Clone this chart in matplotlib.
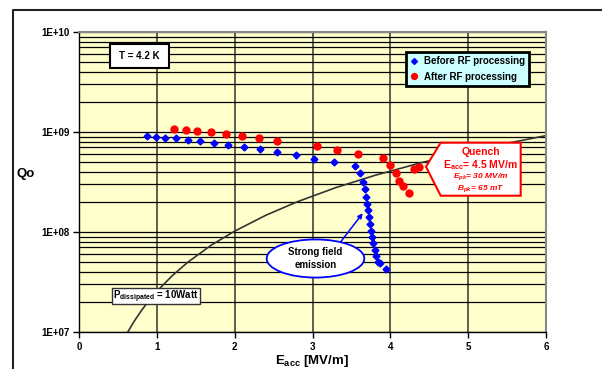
import matplotlib
matplotlib.use("Agg")
import matplotlib.pyplot as plt
from matplotlib.patches import Rectangle, Polygon, Ellipse
from matplotlib.lines import Line2D
from matplotlib.ticker import LogLocator, FixedLocator, NullFormatter

plt.rcParams["font.family"] = ["Liberation Sans", "DejaVu Sans"]
plt.rcParams["mathtext.fontset"] = "custom"
plt.rcParams["mathtext.rm"] = "Liberation Sans:bold"
plt.rcParams["mathtext.it"] = "Liberation Sans:bold:italic"
plt.rcParams["mathtext.bf"] = "Liberation Sans:bold"

# before RF processing (blue diamonds)
e_before = [0.87, 0.99, 1.11, 1.25, 1.40, 1.55, 1.73, 1.92, 2.12, 2.32, 2.55, 2.79,
            3.02, 3.27, 3.54, 3.61, 3.65, 3.68, 3.69, 3.70, 3.71, 3.72, 3.74, 3.75,
            3.77, 3.78, 3.80, 3.81, 3.84, 3.87, 3.95]
q_before = [9.06e8, 9.0e8, 8.77e8, 8.7e8, 8.38e8, 8.13e8, 7.82e8, 7.47e8, 7.13e8, 6.76e8,
            6.31e8, 5.93e8, 5.41e8, 5.01e8, 4.61e8, 3.86e8, 3.19e8, 2.67e8, 2.22e8, 1.92e8,
            1.66e8, 1.41e8, 1.21e8, 1.03e8, 8.9e7, 7.7e7, 6.6e7, 5.75e7, 5.0e7, 4.86e7, 4.27e7]

# after RF processing (red circles)
e_after = [1.22, 1.37, 1.52, 1.70, 1.89, 2.10, 2.31, 2.55, 3.06, 3.31, 3.59, 3.90,
           4.00, 4.07, 4.11, 4.16, 4.24, 4.31, 4.37]
q_after = [1.07e9, 1.05e9, 1.02e9, 9.93e8, 9.48e8, 9.12e8, 8.7e8, 8.13e8, 7.2e8, 6.6e8,
           6.07e8, 5.53e8, 4.68e8, 3.92e8, 3.26e8, 2.86e8, 2.45e8, 4.3e8, 4.43e8]

# 10 W dissipated power line
e_curve = [0.60, 0.70, 0.80, 0.90, 1.0, 1.2, 1.4, 1.7, 2.0, 2.4, 2.8, 3.3, 3.8, 4.4, 5.0, 5.5, 6.0]
q_curve = [9.2e6, 1.25e7, 1.63e7, 2.07e7, 2.55e7, 3.67e7, 5.0e7, 7.4e7, 1.02e8, 1.47e8,
           2.0e8, 2.78e8, 3.68e8, 4.94e8, 6.38e8, 7.7e8, 9.2e8]

x_ticks = [0, 1, 2, 3, 4, 5, 6]
y_ticks = [1e7, 1e8, 1e9, 1e10]
y_labels = ["1E+07", "1E+08", "1E+09", "1E+10"]

fig = plt.figure(figsize=(6.02, 3.69), dpi=100)
ax = fig.add_axes([79 / 602, 1 - 332 / 369, 467 / 602, 300 / 369])
ax.set_facecolor("#FFFFCC")

# chart-area frame (cut off at the image edge)
fig.add_artist(Line2D([13 / 602, 13 / 602, 1.0], [0.0, 1 - 10 / 369, 1 - 10 / 369],
                      color="#222222", lw=1.5, transform=fig.transFigure))

ax.set_yscale("log")
ax.set_xlim(0, 6)
ax.set_ylim(1e7, 1e10)

ax.yaxis.set_major_locator(FixedLocator(y_ticks))
ax.set_yticklabels(y_labels)
ax.yaxis.set_minor_locator(LogLocator(base=10, subs=range(2, 10)))
ax.yaxis.set_minor_formatter(NullFormatter())
ax.set_xticks(x_ticks)
ax.set_xticklabels([str(v) for v in x_ticks])
ax.tick_params(axis="both", which="major", labelsize=7, length=4, width=1, pad=3,
               direction="out")
ax.tick_params(axis="y", which="minor", length=0)
for lbl in ax.get_xticklabels() + ax.get_yticklabels():
    lbl.set_fontweight("bold")

ax.grid(True, which="major", axis="x", color="#333333", lw=1.1)
ax.grid(True, which="both", axis="y", color="black", lw=0.9)
ax.set_axisbelow(True)

for side in ("top", "right"):
    ax.spines[side].set_color("#888888")
    ax.spines[side].set_linewidth(1.5)
for side in ("left", "bottom"):
    ax.spines[side].set_color("black")
    ax.spines[side].set_linewidth(1.0)

ax.plot(e_curve, q_curve, color="#333333", lw=1.2, zorder=2)
ax.plot(e_before, q_before, "D", color="#0000FF", markersize=3.5, zorder=3,
        label="Before RF processing")
ax.plot(e_after, q_after, "o", color="#FF0000", markersize=5, zorder=3,
        label="After RF processing")

leg = ax.legend(loc="upper left", bbox_to_anchor=(0.700, 0.9333), borderaxespad=0,
                fancybox=False, framealpha=1, handlelength=0.8, handletextpad=0.6,
                borderpad=0.45, labelspacing=0.55, markerscale=0.85,
                prop={"size": 7, "weight": "bold"})
leg.get_frame().set_facecolor("#CCFFFF")
leg.get_frame().set_edgecolor("black")
leg.get_frame().set_linewidth(2)

# T = 4.2 K box
ax.add_patch(Rectangle((0.0664, 0.88), 0.1263, 0.08, transform=ax.transAxes,
                       facecolor="white", edgecolor="black", lw=1.5, zorder=5))
ax.text(0.1295, 0.92, "T = 4.2 K", transform=ax.transAxes, ha="center", va="center",
        fontsize=7, fontweight="bold", zorder=6)

# P dissipated box
ax.add_patch(Rectangle((0.0707, 0.0933), 0.1884, 0.0524, transform=ax.transAxes,
                       facecolor="white", edgecolor="#333333", lw=1, zorder=5))
ax.text(0.165, 0.118, r"P$_{\mathrm{dissipated}}$ = 10Watt", transform=ax.transAxes,
        ha="center", va="center", fontsize=7, fontweight="bold", zorder=6)

# Quench callout
ax.add_patch(Polygon([(0.743, 0.551), (0.7745, 0.631), (0.9458, 0.631),
                      (0.9458, 0.4543), (0.7745, 0.4543)], closed=True,
                     transform=ax.transAxes, facecolor="white", edgecolor="#FF0000",
                     lw=1.5, zorder=5))
ax.text(0.860, 0.601, "Quench", transform=ax.transAxes, ha="center", va="center",
        fontsize=7.5, fontweight="bold", color="#FF0000", zorder=6)
ax.text(0.860, 0.558, r"E$_{\mathrm{acc}}$= 4.5 MV/m", transform=ax.transAxes,
        ha="center", va="center", fontsize=7.5, fontweight="bold", color="#FF0000", zorder=6)
ax.text(0.860, 0.518, r"E$_{pk}$= 30 MV/m", transform=ax.transAxes, ha="center",
        va="center", fontsize=6, fontweight="bold", style="italic", color="#FF0000", zorder=6)
ax.text(0.860, 0.479, r"B$_{pk}$= 65 mT", transform=ax.transAxes, ha="center",
        va="center", fontsize=6, fontweight="bold", style="italic", color="#FF0000", zorder=6)

# Strong field emission callout
ax.annotate("", xy=(3.645, 1.54e8), xytext=(3.354, 7.82e7),
            arrowprops=dict(arrowstyle="-|>", color="#0000FF", lw=1.1,
                            mutation_scale=7, shrinkA=0, shrinkB=0), zorder=4)
ax.add_patch(Ellipse((0.5064, 0.245), 0.209, 0.127, transform=ax.transAxes,
                     facecolor="white", edgecolor="#0000FF", lw=1.3, zorder=5))
ax.text(0.5064, 0.245, "Strong field\nemission", transform=ax.transAxes, ha="center",
        va="center", fontsize=7, fontweight="bold", linespacing=1.35, zorder=6)

fig.text(26 / 602, 1 - 174 / 369, "Qo", ha="center", va="center", fontsize=9.5,
         fontweight="bold")
fig.text(312 / 602, 1 - 361 / 369, r"E$_{\mathrm{acc}}$ [MV/m]", ha="center",
         va="center", fontsize=9.5, fontweight="bold")

fig.savefig("out.png", dpi=100)
